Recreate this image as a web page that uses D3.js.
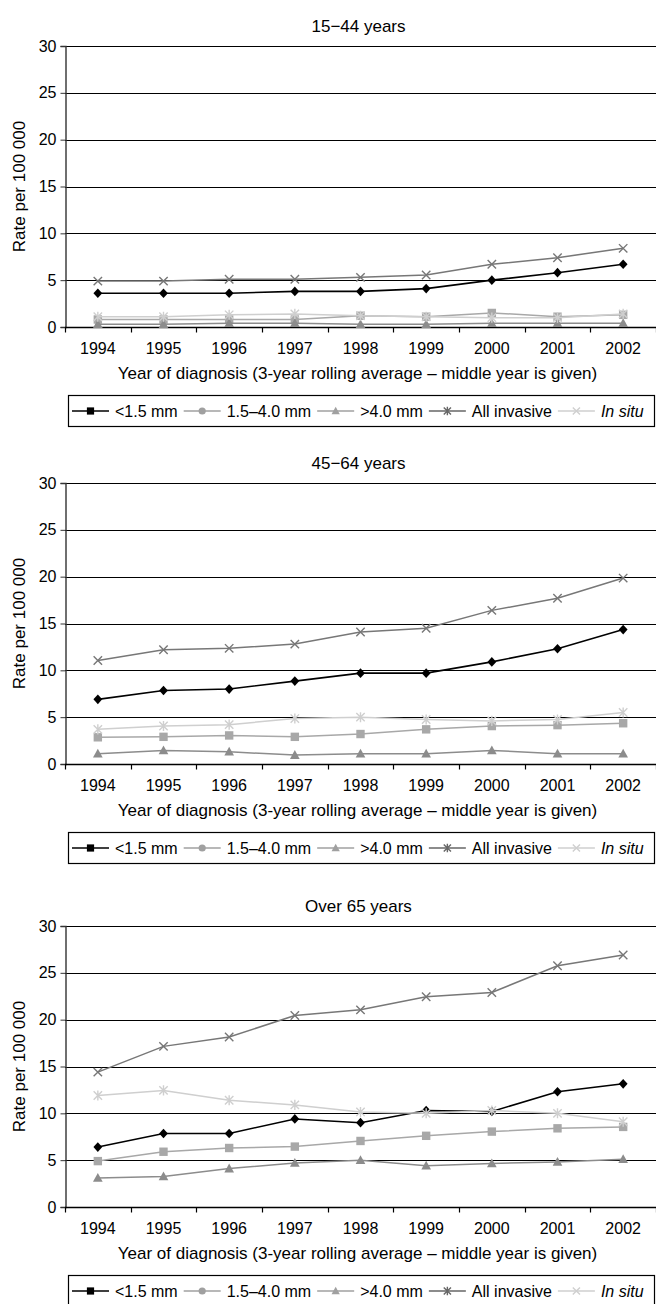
<!DOCTYPE html>
<html><head><meta charset="utf-8">
<script src="https://cdn.jsdelivr.net/npm/d3@7"></script>
<style>
html,body{margin:0;padding:0;background:#fff;}
svg{display:block;font-family:"Liberation Sans",Arial,sans-serif;}
</style></head>
<body>
<svg id="chart" width="656" height="1304"></svg>
<script>
// ---------- data ----------
const years = ["1994","1995","1996","1997","1998","1999","2000","2001","2002"];
const yTicks = [0,5,10,15,20,25,30];
const panelTitles = ["15\u221244 years","45\u221264 years","Over 65 years"];
const seriesNames = ["<1.5 mm","1.5\u20134.0 mm",">4.0 mm","All invasive","In situ"];
const xTitle = "Year of diagnosis (3-year rolling average \u2013 middle year is given)";
const yTitle = "Rate per 100 000";

// 15-44 years
const p1Below15 = [3.6,3.6,3.6,3.8,3.8,4.1,5.0,5.8,6.7];
const p1Mid     = [0.8,0.8,0.8,0.8,1.2,1.1,1.5,1.1,1.3];
const p1Above40 = [0.3,0.3,0.4,0.4,0.3,0.3,0.4,0.4,0.4];
const p1AllInv  = [4.9,4.9,5.1,5.1,5.3,5.55,6.7,7.4,8.4];
const p1InSitu  = [1.1,1.1,1.3,1.4,1.2,1.1,1.0,1.0,1.4];
// 45-64 years
const p2Below15 = [6.9,7.85,8.0,8.85,9.7,9.7,10.9,12.3,14.35];
const p2Mid     = [2.85,2.9,3.05,2.9,3.2,3.7,4.05,4.15,4.35];
const p2Above40 = [1.1,1.45,1.3,0.95,1.1,1.1,1.45,1.1,1.1];
const p2AllInv  = [11.05,12.2,12.35,12.8,14.1,14.5,16.4,17.7,19.85];
const p2InSitu  = [3.7,4.05,4.2,4.85,5.0,4.75,4.6,4.75,5.5];
// Over 65 years
const p3Below15 = [6.4,7.85,7.85,9.4,9.0,10.3,10.2,12.3,13.15];
const p3Mid     = [4.9,5.9,6.3,6.45,7.05,7.6,8.05,8.4,8.55];
const p3Above40 = [3.1,3.25,4.1,4.7,5.0,4.4,4.65,4.8,5.1];
const p3AllInv  = [14.4,17.15,18.15,20.45,21.05,22.45,22.9,25.75,26.9];
const p3InSitu  = [11.9,12.45,11.4,10.9,10.15,10.0,10.3,10.0,9.1];

const panels = [
  [p1Below15,p1Mid,p1Above40,p1AllInv,p1InSitu],
  [p2Below15,p2Mid,p2Above40,p2AllInv,p2InSitu],
  [p3Below15,p3Mid,p3Above40,p3AllInv,p3InSitu]
];

// ---------- styles ----------
const lineColors   = ["#000000","#a8a8a8","#8c8c8c","#777777","#cfcfcf"];
const markerKinds  = ["diamond","square","triangle","x","asterisk"];
const legendColors = ["#000000","#a0a0a0","#a0a0a0","#666666","#cfcfcf"];
const legendKinds  = ["square","circle","triangle","asterisk","x"];

const svg = d3.select("#chart");
const left = 65, right = 656;
const plotTops = [46, 483, 926];
const plotH = 281;

const x = d3.scaleBand().domain(years).range([left,right]).padding(0);

function drawMarker(g, kind, cx, cy, color, s) {
  s = s || 4.2;
  if (kind === "diamond") {
    g.append("path").attr("d",`M${cx},${cy-s*1.15}L${cx+s*1.05},${cy}L${cx},${cy+s*1.15}L${cx-s*1.05},${cy}Z`).attr("fill",color);
  } else if (kind === "square") {
    g.append("rect").attr("x",cx-s).attr("y",cy-s).attr("width",2*s).attr("height",2*s).attr("fill",color);
  } else if (kind === "circle") {
    g.append("circle").attr("cx",cx).attr("cy",cy).attr("r",s).attr("fill",color);
  } else if (kind === "triangle") {
    g.append("path").attr("d",`M${cx},${cy-s*1.2}L${cx+s*1.15},${cy+s*0.9}L${cx-s*1.15},${cy+s*0.9}Z`).attr("fill",color);
  } else if (kind === "x") {
    g.append("path").attr("d",`M${cx-s},${cy-s}L${cx+s},${cy+s}M${cx-s},${cy+s}L${cx+s},${cy-s}`)
      .attr("stroke",color).attr("stroke-width",1.4).attr("fill","none");
  } else if (kind === "asterisk") {
    g.append("path").attr("d",`M${cx-s},${cy-s}L${cx+s},${cy+s}M${cx-s},${cy+s}L${cx+s},${cy-s}M${cx},${cy-s*1.2}L${cx},${cy+s*1.2}`)
      .attr("stroke",color).attr("stroke-width",1.4).attr("fill","none");
  }
}

panels.forEach((series, pi) => {
  const top = plotTops[pi];
  const bottom = top + plotH;
  const y = d3.scaleLinear().domain([0,30]).range([bottom, top]);
  const g = svg.append("g");

  // title
  g.append("text").attr("x", (left+right)/2 - 2).attr("y", top - 14)
    .attr("text-anchor","middle").attr("font-size",17).text(panelTitles[pi]);

  // gridlines
  g.selectAll(".grid").data(yTicks.filter(d=>d>0)).join("line")
    .attr("x1",left).attr("x2",right).attr("y1",d=>Math.round(y(d))+0.5).attr("y2",d=>Math.round(y(d))+0.5)
    .attr("stroke","#000").attr("stroke-width",1.2);

  // y axis
  const yAxis = d3.axisLeft(y).tickValues(yTicks).tickSize(5).tickPadding(4).tickFormat(d3.format("d"));
  const ya = g.append("g").attr("transform",`translate(${left+0.5},0)`).call(yAxis);
  ya.select(".domain").attr("stroke","#333").attr("stroke-width",1.4);
  ya.selectAll(".tick line").attr("stroke","#333");
  ya.selectAll("text").attr("font-size",16).attr("font-family","Liberation Sans, Arial, sans-serif").attr("fill","#000");

  // x axis with ticks at category boundaries
  const xa = g.append("g").attr("transform",`translate(0,${Math.round(y(0))+0.5})`);
  xa.append("line").attr("x1",left).attr("x2",right).attr("stroke","#000").attr("stroke-width",1.4);
  const bounds = years.map(d => x(d)).concat([x(years[years.length-1]) + x.bandwidth()]);
  xa.selectAll(".xt").data(bounds).join("line")
    .attr("x1",d=>Math.round(d)+0.5).attr("x2",d=>Math.round(d)+0.5).attr("y1",0).attr("y2",5)
    .attr("stroke","#000").attr("stroke-width",1.2);
  xa.selectAll(".xl").data(years).join("text")
    .attr("x",d=>x(d)+x.bandwidth()/2).attr("y",26).attr("text-anchor","middle")
    .attr("font-size",16).text(d=>d);

  // axis titles
  g.append("text").attr("x",(left+right)/2 - 3).attr("y",bottom+52).attr("text-anchor","middle")
    .attr("font-size",17).text(xTitle);
  g.append("text").attr("transform",`translate(25,${(top+bottom)/2}) rotate(-90)`)
    .attr("text-anchor","middle").attr("font-size",17).text(yTitle);

  // series
  const line = d3.line().x((d,i)=>x(years[i])+x.bandwidth()/2).y(d=>y(d));
  series.forEach((vals, si) => {
    g.append("path").datum(vals).attr("d",line).attr("fill","none")
      .attr("stroke",lineColors[si]).attr("stroke-width",si===0?1.6:1.5);
    const mg = g.append("g");
    vals.forEach((v,i) => drawMarker(mg, markerKinds[si], x(years[i])+x.bandwidth()/2, y(v), lineColors[si], 4.2));
  });

  // legend
  const lgTop = bottom + 68, lgH = 31;
  const lg = g.append("g");
  lg.append("rect").attr("x",68.5).attr("y",lgTop+0.5).attr("width",586).attr("height",lgH)
    .attr("fill","#fff").attr("stroke","#000").attr("stroke-width",1.2);
  let cx = 72;
  const cy = lgTop + lgH/2 + 0.5;
  seriesNames.forEach((name, si) => {
    lg.append("line").attr("x1",cx).attr("x2",cx+37).attr("y1",cy).attr("y2",cy)
      .attr("stroke",legendColors[si]).attr("stroke-width",1.4);
    drawMarker(lg, legendKinds[si], cx+18.5, cy, legendColors[si], 3.6);
    const t = lg.append("text").attr("x",cx+43).attr("y",cy+5.5).attr("font-size",16).text(name);
    if (si === 4) t.attr("font-style","italic");
    cx = cx + 43 + t.node().getComputedTextLength() + 6;
  });
});
</script>
</body></html>
